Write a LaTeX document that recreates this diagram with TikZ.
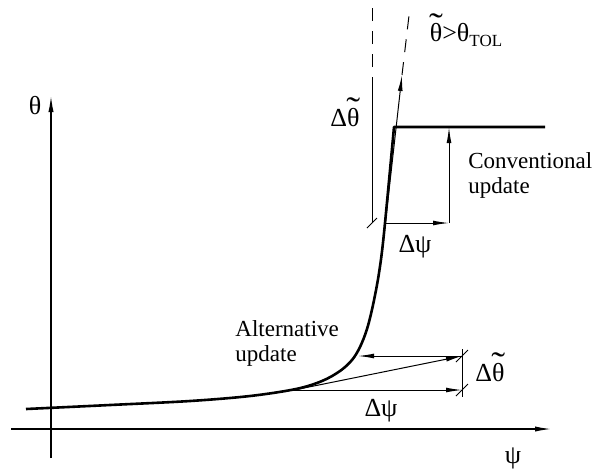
\documentclass[tikz,border=0pt]{standalone}
\usepackage{fontspec}
\setmainfont{Liberation Serif}
\usetikzlibrary{arrows.meta}
\newcommand{\tth}{{\ooalign{θ\cr\hidewidth\raisebox{0.2em}{\scalebox{1.6}[1.3]{\char"02DC}}\hidewidth\cr}}}

\begin{document}
\begin{tikzpicture}[
    x=0.5pt, y=-0.5pt,
    axis/.style={line width=0.6pt, -{Latex[length=8pt,width=2.6pt]}},
    graph/.style={line width=1.3pt},
    thin/.style={line width=0.5pt},
    dim/.style={line width=0.5pt, -{Latex[length=8pt,width=2.4pt]}},
    dashline/.style={line width=0.5pt, dash pattern=on 6.5pt off 5pt},
    lbl/.style={font=\fontsize{13}{15}\selectfont, inner sep=1pt},
    txt/.style={font=\fontsize{11.5}{12.5}\selectfont, align=left, inner sep=1pt}
]
\useasboundingbox (0,0) rectangle (594,473);

% === Axes ===
\coordinate (yb) at (51,458);
\coordinate (yt) at (51,96);
\coordinate (xl) at (11,429);
\coordinate (xr) at (551,429);
\draw[axis] (yb) -- (yt);
\draw[axis] (xl) -- (xr);
\node[lbl] (thlbl) at (35,106) {θ};
\node[lbl] (psilbl) at (513,458) {ψ};

% === Curve ===
\coordinate (corner) at (394,127);
\coordinate (flat) at (545,127);
\draw[graph, line join=round] plot[smooth, tension=0.55] coordinates {
  (26,409) (110,405) (190,401) (250,396) (296,389) (322,381)
  (340,371) (352,360) (360,347) (367,329) (373,305) (379,273)
  (384,233) (394,127)}
  -- (flat);

% === Conventional update ===
\coordinate (ts) at (381,262);
\coordinate (tm) at (402,75);
\coordinate (te) at (410,7);
\coordinate (p0) at (372,223);
\coordinate (p1) at (372,90);
\coordinate (p2) at (372,6);
\coordinate (c0) at (385,223);
\coordinate (c1) at (449,223);
\coordinate (c2) at (449,127);
\draw[dim] (ts) -- (tm);
\draw[dashline] (tm) -- (te);
\draw[thin] (p0) -- (p1);
\draw[dashline] (p1) -- (p2);
\draw[thin] (p0) ++(-5,5) -- ++(10,-10);
\draw[dim] (c0) -- (c1);
\draw[dim] (c1) -- (c2);
\node[lbl] (dthup) at (345,117) {Δ\tth};
\node[lbl] (dpsup) at (415,247) {Δψ};
\node[lbl] (tol) at (466,35) {\tth{}>θ\raisebox{-0.45ex}{\fontsize{8.5}{9}\selectfont TOL}};
\node[txt, anchor=north west] (conv) at (466,150) {Conventional\\update};

% === Alternative update ===
\coordinate (a0) at (294,390);
\coordinate (a1) at (462,390);
\coordinate (a2) at (462,356);
\coordinate (a3) at (358,356);
\draw[dim] (a0) -- (a1);
\draw[dim] (a0) -- (a2);
\draw[dim] (a2) -- (a3);
\draw[thin] (462,349) -- (462,397);
\draw[thin] (a1) ++(-6,6) -- ++(12,-12);
\draw[thin] (a2) ++(-6,6) -- ++(12,-12);
\node[lbl] (dthlo) at (490,372) {Δ\tth};
\node[lbl] (dpslo) at (381,411) {Δψ};
\node[txt, anchor=north west] (alt) at (233,318) {Alternative\\update};

\end{tikzpicture}
\end{document}
